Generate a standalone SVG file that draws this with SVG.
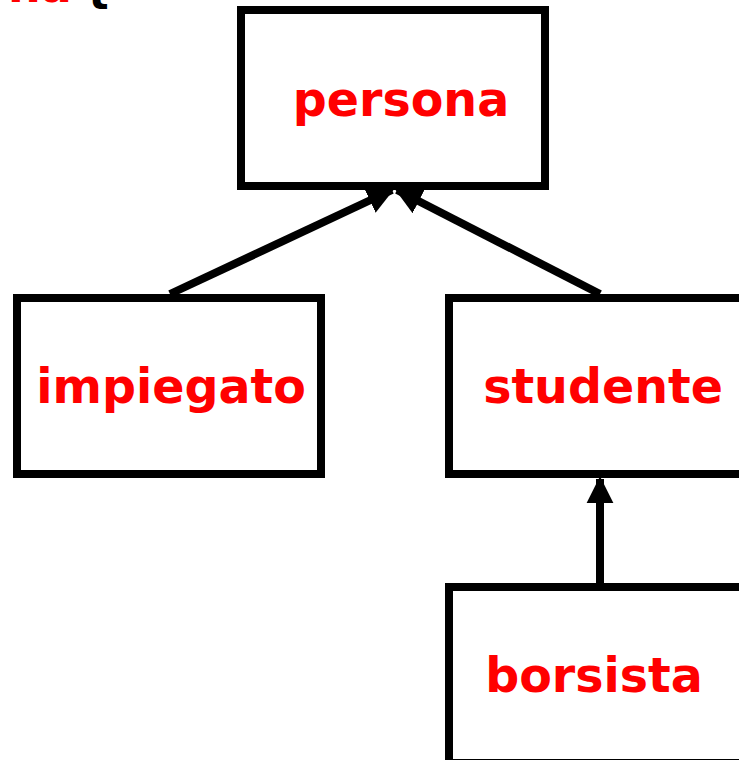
<svg xmlns="http://www.w3.org/2000/svg" width="739" height="760" viewBox="0 0 739 760">
<defs>
<style>
.box{fill:#fff;stroke:#000;stroke-width:8}
.lbl{font-family:"DejaVu Sans",Verdana,sans-serif;font-weight:bold;font-size:47.5px;fill:#ff0000;text-anchor:middle}
.con{stroke:#000;stroke-width:8;fill:none;marker-end:url(#ah)}
</style>
<marker id="ah" viewBox="0 0 10 10" refX="9" refY="5" markerWidth="3.4" markerHeight="3.6" markerUnits="strokeWidth" orient="auto">
<path d="M0,0 L10,5 L0,10 Z" fill="#000"/>
</marker>
</defs>
<rect width="739" height="760" fill="#fff"/>
<g id="cut-text">
<text x="8" y="2" style="font-family:'DejaVu Sans',Verdana,sans-serif;font-weight:bold;font-size:46px;fill:#ff0000">na</text>
<text x="80" y="1" style="font-family:'DejaVu Sans',Verdana,sans-serif;font-weight:bold;font-size:46px;fill:#000">{</text>
</g>
<g id="connectors">
<line class="con" x1="170" y1="294" x2="392" y2="190"/>
<line class="con" x1="600" y1="294" x2="397" y2="190"/>
<line class="con" x1="600" y1="583" x2="600" y2="479"/>
</g>
<g id="persona">
<rect class="box" x="241" y="10" width="304" height="176"/>
<text class="lbl" x="401" y="116">persona</text>
</g>
<g id="impiegato">
<rect class="box" x="17" y="298" width="304" height="176"/>
<text class="lbl" x="171" y="403">impiegato</text>
</g>
<g id="studente">
<rect class="box" x="449" y="298" width="304" height="176"/>
<text class="lbl" x="603" y="403">studente</text>
</g>
<g id="borsista">
<rect class="box" x="449" y="587" width="304" height="176"/>
<text class="lbl" x="594" y="692">borsista</text>
</g>
</svg>
